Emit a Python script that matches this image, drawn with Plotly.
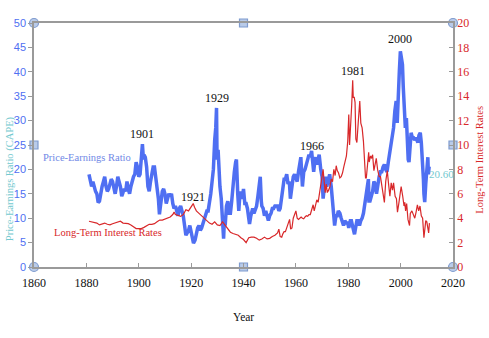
import plotly.graph_objects as go

# ---- data ----
pe_years = [1881.0,1881.5,1882.0,1882.5,1883.0,1883.5,1884.0,1884.5,1885.0,1885.5,1886.0,1886.5,1887.0,1887.5,1888.0,1888.5,1889.0,1889.5,1890.0,1890.5,
            1891.0,1891.5,1892.0,1892.5,1893.0,1893.5,1894.0,1894.5,1895.0,1895.5,1896.0,1896.5,1897.0,1897.5,1898.0,1898.5,1899.0,1899.5,1900.0,1900.5,
            1901.0,1901.4,1901.8,1902.0,1902.5,1903.0,1903.5,1904.0,1904.5,1905.0,1905.5,1906.0,1906.5,1907.0,1907.5,1907.9,1908.5,1909.0,1909.5,1910.0,
            1910.5,1911.0,1911.5,1912.0,1912.5,1913.0,1913.5,1914.0,1914.5,1915.0,1915.5,1916.0,1916.5,1917.0,1917.5,1918.0,1918.5,1919.0,1919.5,1920.0,
            1920.5,1920.9,1921.5,1922.0,1922.5,1923.0,1923.5,1924.0,1924.5,1925.0,1925.5,1926.0,1926.5,1927.0,1927.5,1928.0,1928.5,1929.0,1929.4,1929.7,
            1929.9,1930.3,1930.6,1931.0,1931.5,1931.9,1932.4,1932.7,1933.0,1933.5,1934.0,1934.5,1935.0,1935.5,1936.0,1936.5,1937.0,1937.3,1937.8,1938.2,
            1938.7,1939.0,1939.5,1940.0,1940.5,1941.0,1941.5,1942.0,1942.3,1942.8,1943.0,1943.5,1944.0,1944.5,1945.0,1945.5,1946.0,1946.4,1946.8,1947.0,
            1947.5,1948.0,1948.5,1949.0,1949.5,1950.0,1950.5,1951.0,1951.5,1952.0,1952.5,1953.0,1953.5,1954.0,1954.5,1955.0,1955.5,1956.0,1956.5,1957.0,
            1957.5,1957.9,1958.5,1959.0,1959.5,1960.0,1960.5,1961.0,1961.9,1962.5,1963.0,1963.5,1964.0,1964.5,1965.0,1965.5,1966.0,1966.5,1966.8,1967.2,
            1967.6,1968.0,1968.5,1968.9,1969.5,1970.0,1970.4,1970.8,1971.3,1971.8,1972.3,1972.9,1973.5,1974.0,1974.5,1974.8,1975.3,1975.8,1976.2,1976.8,
            1977.3,1977.8,1978.2,1978.7,1979.2,1979.8,1980.2,1980.8,1981.2,1981.8,1982.4,1982.8,1983.3,1983.8,1984.3,1984.8,1985.3,1985.8,1986.3,1986.8,
            1987.3,1987.7,1987.9,1988.3,1988.8,1989.3,1989.8,1990.3,1990.8,1991.3,1991.8,1992.3,1992.8,1993.3,1993.8,1994.3,1994.8,1995.3,1995.8,1996.3,
            1996.8,1997.3,1997.8,1998.3,1998.7,1999.0,1999.5,1999.9,2000.3,2000.7,2001.0,2001.5,2001.8,2002.2,2002.6,2002.9,2003.2,2003.7,2004.0,2004.5,
            2004.9,2005.3,2005.8,2006.2,2006.6,2007.0,2007.5,2007.9,2008.3,2008.7,2008.9,2009.2,2009.6,2010.0,2010.4,2010.6,2010.9]
pe_values = [19.0,18.0,16.5,17.5,16.0,15.5,15.0,13.2,13.5,15.5,16.5,17.5,18.5,16.5,15.5,16.0,17.0,18.0,17.5,16.5,
             15.0,16.5,18.5,17.5,16.5,14.5,15.5,16.0,15.5,17.5,16.0,15.0,16.5,18.0,18.5,19.0,21.5,20.5,18.5,19.0,
             22.5,25.2,22.0,23.0,22.5,20.5,16.5,15.5,17.5,19.5,20.5,20.5,18.5,17.0,14.0,10.8,13.5,15.5,16.0,15.0,
             13.0,14.5,15.0,14.5,15.0,13.0,12.0,12.5,11.5,10.5,12.0,12.5,11.5,10.5,8.5,6.5,7.0,7.5,8.5,7.0,
             6.0,4.9,5.5,6.8,8.0,8.5,7.5,8.0,9.0,10.0,11.0,11.5,11.5,13.0,15.0,17.5,20.0,26.0,28.5,32.6,
             22.0,24.0,19.5,16.5,14.0,9.0,5.8,9.5,8.5,12.5,13.5,11.0,11.0,13.5,17.0,19.5,21.5,22.0,15.0,11.5,
             15.5,15.0,14.0,16.0,13.0,13.0,12.0,10.0,8.8,10.5,11.0,12.0,11.0,12.0,12.5,14.5,17.0,18.5,13.5,12.5,
             12.0,10.5,11.5,10.5,9.5,10.5,11.0,12.0,12.0,12.5,12.5,12.5,11.5,12.0,14.0,17.0,18.0,18.0,19.0,17.0,
             17.5,14.0,16.0,18.5,19.0,18.0,17.5,19.5,22.5,16.5,19.5,20.0,21.5,22.0,23.0,22.5,23.8,21.5,19.5,21.5,
             22.5,21.0,22.5,23.0,20.0,18.5,14.0,16.5,18.5,16.5,17.5,19.0,16.5,14.0,11.5,8.5,10.5,10.5,11.5,11.0,
             10.0,9.0,8.5,9.5,9.0,9.0,8.0,9.5,9.5,8.0,6.7,8.0,9.5,9.5,8.5,9.5,10.0,11.0,13.0,14.0,
             16.0,18.0,13.5,13.5,14.5,15.5,17.5,17.0,15.0,17.5,18.5,19.5,19.5,20.5,21.0,20.0,19.5,21.5,23.5,25.0,
             27.0,28.5,32.0,34.0,29.5,36.0,40.0,44.2,43.0,41.5,37.0,33.0,28.5,30.5,24.5,22.0,21.5,25.5,27.5,26.5,
             26.5,26.0,26.5,26.0,25.5,27.0,27.5,25.5,22.5,18.0,15.0,13.3,17.0,20.5,22.5,19.0,20.6]

rate_years = [1881,1882,1883,1884,1885,1886,1887,1888,1889,1890,1891,1892,1893,1894,1895,1896,1897,1898,1899,1900,
              1901,1902,1903,1904,1905,1906,1907,1908,1909,1910,1911,1912,1913,1913.5,1914,1915,1916,1917,1918,1919,
              1920,1920.8,1921.3,1922,1923,1924,1925,1926,1927,1928,1929,1930,1931,1932,1933,1934,1935,1936,1937,1938,
              1939,1940,1941,1942,1943,1944,1945,1946,1947,1948,1949,1950,1951,1952,1953,1953.5,1954,1954.6,1955,1955.5,
              1956,1956.6,1957,1957.6,1958,1958.5,1959,1959.5,1960,1960.5,1961,1961.5,1962,1962.5,1963,1963.5,1964,1964.5,1965,1965.5,
              1966,1966.6,1967,1967.5,1968,1968.5,1969,1969.5,1970,1970.4,1970.8,1971.2,1971.6,1972,1972.5,1973,1973.5,1974,1974.5,1975,
              1975.4,1975.8,1976.3,1976.8,1977.3,1977.8,1978.3,1978.8,1979.3,1979.8,1980.2,1980.5,1980.9,1981.3,1981.7,1981.9,1982.3,1982.6,1982.9,1983.3,
              1983.8,1984.4,1984.8,1985.3,1985.8,1986.2,1986.6,1986.9,1987.3,1987.8,1988.0,1988.5,1988.9,1989.3,1989.8,1990.3,1990.7,1991.2,1991.8,1992.3,
              1992.8,1993.3,1993.8,1994.3,1994.9,1995.3,1995.9,1996.4,1996.9,1997.3,1997.9,1998.4,1998.8,1999.3,1999.9,2000.2,2000.8,2001.3,2001.6,2001.9,
              2002.3,2002.8,2003.4,2003.7,2004.3,2004.9,2005.4,2005.9,2006.4,2006.9,2007.4,2007.9,2008.4,2008.9,2009.3,2009.6,2010.0,2010.4,2010.7,2011.0]
rate_values = [3.75,3.7,3.6,3.6,3.45,3.5,3.6,3.5,3.45,3.55,3.6,3.7,3.75,3.6,3.6,3.55,3.45,3.3,3.15,3.15,
               3.15,3.25,3.35,3.5,3.5,3.55,3.7,3.85,3.85,3.95,4.0,4.1,4.3,4.5,4.3,4.2,4.15,4.3,4.7,4.6,
               5.0,5.2,4.9,4.6,4.4,4.2,3.95,3.8,3.6,3.5,3.7,3.45,3.4,3.7,3.4,3.1,2.85,2.75,2.7,2.6,
               2.4,2.25,2.0,2.4,2.45,2.45,2.35,2.2,2.3,2.45,2.3,2.35,2.5,2.6,2.8,3.1,2.5,2.45,2.7,2.9,
               2.9,3.3,3.4,3.9,3.1,3.2,4.0,4.4,4.6,4.0,3.9,4.0,4.1,4.0,3.95,4.1,4.2,4.15,4.3,4.3,
               4.7,5.1,4.6,5.1,5.5,5.3,6.0,6.5,7.6,8.0,7.0,6.1,6.8,6.1,6.3,6.6,7.2,7.0,8.0,7.5,
               8.3,7.9,7.7,7.3,7.4,7.7,8.2,8.6,9.1,10.3,12.5,10.0,12.5,13.2,15.3,13.9,13.9,13.5,10.5,10.2,
               11.8,13.6,11.8,11.4,10.3,8.5,7.3,7.3,8.3,9.4,8.6,9.1,8.9,9.2,7.9,8.6,8.9,8.0,7.4,7.4,
               6.6,6.0,5.3,7.0,7.9,7.0,5.8,6.9,6.3,6.9,5.8,5.6,4.5,5.2,6.3,6.6,5.8,5.0,5.3,4.6,
               5.2,3.9,3.4,4.4,4.6,4.2,4.0,4.5,5.1,4.6,5.0,4.2,4.0,2.4,3.3,3.8,3.7,3.2,2.8,3.6]

x_ticks = [1860, 1880, 1900, 1920, 1940, 1960, 1980, 2000, 2020]
pe_ticks = [0, 5, 10, 15, 20, 25, 30, 35, 40, 45, 50]
rate_ticks = [0, 2, 4, 6, 8, 10, 12, 14, 16, 18, 20]

pe_peaks = [(1901, "1901", 1), (1929, "1929", 1), (1966, "1966", -4), (2000, "2000", 3)]
rate_peaks = [(1921, "1921", -2), (1981, "1981", 0)]

BLUE = "#4f6ff2"
RED = "#d8282a"
TEAL = "#74c9cf"
SERIF = "Liberation Serif"

fig = go.Figure()
fig.add_trace(go.Scatter(x=pe_years, y=pe_values, mode="lines",
                         line=dict(color=BLUE, width=3.5), yaxis="y", showlegend=False))
fig.add_trace(go.Scatter(x=rate_years, y=rate_values, mode="lines",
                         line=dict(color=RED, width=1.2), yaxis="y2", showlegend=False))

# frame handles (decoration of the original picture)
xr = [x_ticks[0], x_ticks[-1]]
yr = [pe_ticks[0], pe_ticks[-1]]
xm = (xr[0] + xr[1]) / 2
ym = (yr[0] + yr[1]) / 2
fig.add_trace(go.Scatter(x=[xr[0], xr[1], xr[0], xr[1]], y=[yr[0], yr[0], yr[1], yr[1]],
                         mode="markers", cliponaxis=False, showlegend=False, hoverinfo="skip",
                         marker=dict(symbol="circle", size=9, color="#b9cbe9",
                                     line=dict(color="#7f9bcf", width=1.2))))
fig.add_trace(go.Scatter(x=[xm, xm, xr[0], xr[1]], y=[yr[0], yr[1], ym, ym],
                         mode="markers", cliponaxis=False, showlegend=False, hoverinfo="skip",
                         marker=dict(symbol="square", size=8, color="#b9cbe9",
                                     line=dict(color="#7f9bcf", width=1.2))))

def local_max(xs, ys, yr_c, win=2.0):
    best = None
    for a, b in zip(xs, ys):
        if abs(a - yr_c) <= win and (best is None or b > best[1]):
            best = (a, b)
    return best

ann = []
for yc, txt, sh in pe_peaks:
    px, py = local_max(pe_years, pe_values, yc)
    ann.append(dict(x=px, y=py, xref="x", yref="y", text=txt, showarrow=False,
                    yanchor="bottom", yshift=sh, font=dict(family=SERIF, size=12, color="#111")))
for yc, txt, sh in rate_peaks:
    px, py = local_max(rate_years, rate_values, yc)
    ann.append(dict(x=px, y=py, xref="x", yref="y2", text=txt, showarrow=False,
                    yanchor="bottom", yshift=sh, font=dict(family=SERIF, size=12, color="#111")))

ann.append(dict(x=pe_years[-1], y=pe_values[-1], xref="x", yref="y", text="%.2f" % pe_values[-1],
                showarrow=False, xanchor="left", yshift=-8, xshift=-2,
                font=dict(family=SERIF, size=11, color=TEAL)))
ann.append(dict(x=0.016, y=0.448, xref="paper", yref="paper", text="Price-Earnings Ratio",
                showarrow=False, xanchor="left", font=dict(family=SERIF, size=10.5, color="#7088e6")))
ann.append(dict(x=0.044, y=0.111, xref="paper", yref="paper", text="Long-Term Interest Rates",
                showarrow=False, xanchor="left", font=dict(family=SERIF, size=10.5, color=RED)))
ann.append(dict(x=0.5, y=0, xref="paper", yref="paper", text="Year", showarrow=False,
                yanchor="middle", yshift=-50, font=dict(family=SERIF, size=11.5, color="#111")))
ann.append(dict(x=0, y=0.36, xref="paper", yref="paper", text="Price-Earnings Ratio (CAPE)",
                showarrow=False, textangle=-90, xanchor="center", xshift=-24,
                font=dict(family=SERIF, size=10.5, color=TEAL)))
ann.append(dict(x=1, y=0.44, xref="paper", yref="paper", text="Long-Term Interest Rates",
                showarrow=False, textangle=-90, xanchor="center", xshift=27,
                font=dict(family=SERIF, size=10.5, color=RED)))

AX = "#9a9a9a"
fig.update_layout(
    width=489, height=338,
    margin=dict(l=34, r=36, t=23, b=71),
    paper_bgcolor="white", plot_bgcolor="white",
    annotations=ann,
    xaxis=dict(range=xr, tickvals=x_ticks, showgrid=False, zeroline=False,
               showline=True, linecolor=AX, linewidth=1.5, mirror=True,
               ticks="inside", ticklen=4, tickcolor=AX, ticklabelstandoff=4,
               tickfont=dict(family=SERIF, size=12, color="#111")),
    yaxis=dict(range=yr, tickvals=pe_ticks, showgrid=False, zeroline=False,
               showline=True, linecolor=AX, linewidth=1.5,
               ticks="outside", ticklen=4, tickcolor=AX,
               tickfont=dict(family="Liberation Sans", size=11, color=BLUE)),
    yaxis2=dict(range=[rate_ticks[0], rate_ticks[-1]], tickvals=rate_ticks, overlaying="y", side="right",
                showgrid=False, zeroline=False, showline=True, linecolor=AX, linewidth=1.5,
                ticks="inside", ticklen=4, tickcolor=AX,
                tickfont=dict(family=SERIF, size=12, color=RED)),
)

fig.write_html("out.html")
